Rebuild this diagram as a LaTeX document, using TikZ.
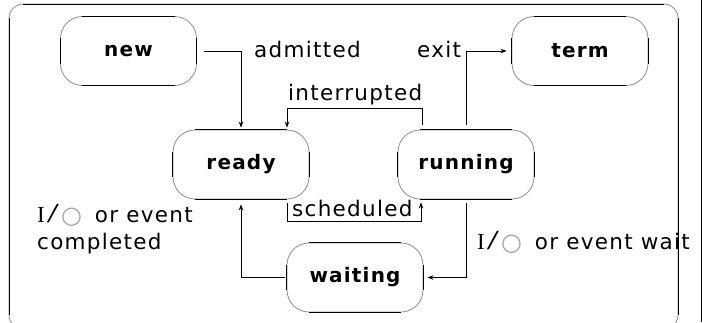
\documentclass[tikz,border=0pt]{standalone}
\usepackage{fontspec}
\setmainfont{DejaVu Sans}
\newfontfamily\labelfont[LetterSpace=6,WordSpace=2]{DejaVu Sans}
\newfontfamily\statefont[LetterSpace=6]{DejaVu Sans}
\newfontfamily\ioserif{Liberation Serif}
\newfontfamily\ringfont{DejaVu Sans}
\usetikzlibrary{arrows.meta}

% "I/O" prefix: serif I, wide slash and a grey ring
\newcommand{\ioprefix}{%
  {\ioserif\fontsize{23}{23}\selectfont I\kern2pt\scalebox{1.9}[1.2]{/}}%
  \kern2pt{\ringfont\color{black!35}\fontsize{24}{24}\selectfont\raisebox{-1.5pt}{○}}\kern13pt}

\tikzset{
  statebox/.style={draw=black!45, line width=0.8pt, rounded corners=22pt,
    minimum width=136pt, minimum height=69pt, inner sep=0pt,
    font=\statefont\bfseries\fontsize{20}{24}\selectfont},
  edge/.style={line width=1pt, black},
  conn/.style={line width=1pt, -{Stealth[length=6pt,width=4.5pt]}},
  lbl/.style={anchor=base west, inner sep=0pt, font=\labelfont\fontsize{21.5}{27}\selectfont}
}

% straight black sides of a rounded state box
\newcommand{\boxsides}[1]{%
  \draw[edge] ([xshift=22pt]#1.north west) -- ([xshift=-22pt]#1.north east);
  \draw[edge] ([xshift=22pt]#1.south west) -- ([xshift=-22pt]#1.south east);
  \draw[edge] ([yshift=-22pt]#1.north west) -- ([yshift=22pt]#1.south west);
  \draw[edge] ([yshift=-22pt]#1.north east) -- ([yshift=22pt]#1.south east);
}

\begin{document}
\begin{tikzpicture}[x=1pt, y=-1pt]
\useasboundingbox (0,0) rectangle (702,322);
\clip (0,0) rectangle (702,322);

% outer frame: grey corners, black sides
\draw[black!45, line width=0.8pt, rounded corners=14pt] (9,4) rectangle (678,329);
\draw[edge] (23,4) -- (664,4);
\draw[edge] (9,18) -- (9,315);
\draw[edge] (678,18) -- (678,315);
\draw[edge] (701,0) -- (701,322);

% states
\node[statebox] (new)     at (128.5,51)  {new};
\node[statebox] (term)    at (580,51)    {term};
\node[statebox] (ready)   at (241,164.5) {ready};
\node[statebox] (running) at (466,164.5) {running};
\node[statebox] (waiting) at (355,277.5) {waiting};
\boxsides{new}
\boxsides{term}
\boxsides{ready}
\boxsides{running}
\boxsides{waiting}

% bend points
\coordinate (intA) at (422,108);
\coordinate (intB) at (287,108);
\coordinate (schA) at (287,221);
\coordinate (schB) at (421,221);

% transitions
\draw[conn] ([xshift=7pt]new.east) -| ([yshift=2pt]ready.north);
\draw[conn] ([yshift=5pt]intA |- running.north) -- (intA) -- (intB) -- ([yshift=2pt]intB |- ready.north);
\draw[conn] ([yshift=5pt]running.north) |- ([xshift=-5pt]term.west);
\draw[conn] ([yshift=-4pt]schA |- ready.south) -- (schA) -- (schB) -- ([yshift=-3pt]schB |- running.south);
\draw[conn] ([yshift=-4pt]running.south) |- ([xshift=4pt]waiting.east);
\draw[conn] ([xshift=-2pt]waiting.west) -| ([yshift=-5pt]ready.south);

% transition labels
\node[lbl] (admitted)    at (254,57)  {admitted};
\node[lbl] (exit)        at (417,57)  {exit};
\node[lbl] (interrupted) at (288,100) {interrupted};
\node[lbl] (scheduled)   at (292,216) {scheduled};
\node[lbl, align=left] (iodone) at (37,249) {\ioprefix or event\\completed};
\node[lbl] (iowait)      at (477,249) {\ioprefix or event wait};
\end{tikzpicture}
\end{document}
